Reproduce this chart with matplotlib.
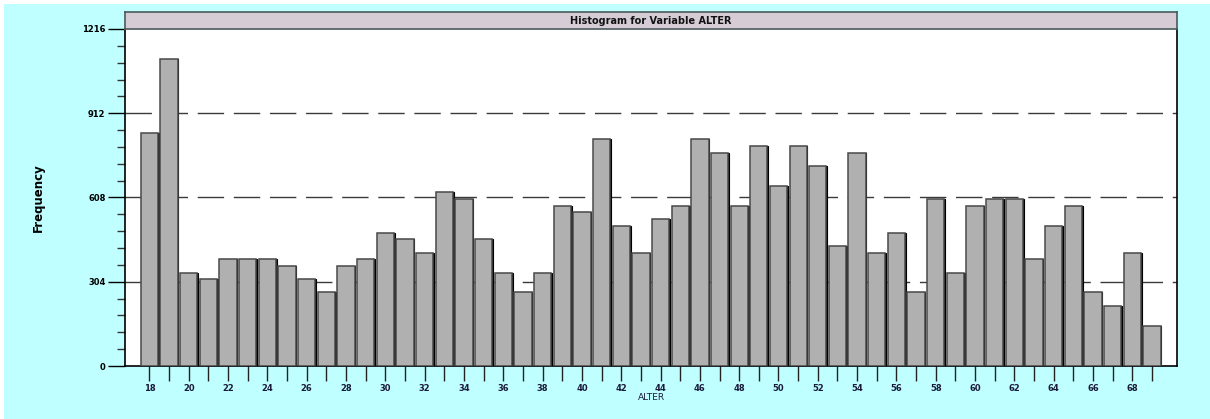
import matplotlib
matplotlib.use("Agg")
import matplotlib.pyplot as plt
from matplotlib.patches import Rectangle
from matplotlib.ticker import MultipleLocator

ages = list(range(18, 70))
freq = [842, 1107, 337, 313, 385, 385, 385, 362, 313, 267,
        362, 385, 481, 459, 409, 627, 601, 459, 337, 267,
        337, 577, 554, 818, 505, 409, 531, 577, 818, 768,
        577, 795, 649, 795, 723, 432, 768, 409, 481, 267,
        601, 337, 577, 601, 601, 386, 505, 577, 267, 218,
        409, 146]
yticks = [0, 304, 608, 912, 1216]
xtick_labels = list(range(18, 70, 2))
title = "Histogram for Variable ALTER"
xlabel = "ALTER"
ylabel = "Frequency"

W, H = 1210, 419
fig = plt.figure(figsize=(W / 100, H / 100), dpi=100, facecolor="white")
# cyan background panel
fig.patches.append(Rectangle((4 / W, 0), 1 - 4 / W, 1 - 4 / H, transform=fig.transFigure,
                             facecolor="#c0ffff", edgecolor="none", zorder=-10))

left, right = 125 / W, 1177 / W
bottom, top = (H - 366) / H, (H - 29) / H
ax = fig.add_axes([left, bottom, right - left, top - bottom])
ax.set_facecolor("white")

# shadow + bars
ax.bar([a + 0.035 for a in ages], freq, width=0.88, color="black", edgecolor="black",
       linewidth=0.8, zorder=2)
ax.bar(ages, freq, width=0.88, color="#b0b0b0", edgecolor="#4a4a4a", linewidth=1.1, zorder=3)

ax.set_xlim(16.76, 70.27)
ax.set_ylim(0, 1216)

for yv in yticks[1:-1]:
    ax.axhline(yv, color="#3a3a3a", linewidth=1.0, linestyle=(0, (19, 7)), zorder=1)

ax.set_yticks(yticks)
ax.set_yticklabels([str(v) for v in yticks], fontsize=6, fontweight="bold")
ax.yaxis.set_minor_locator(MultipleLocator(60.8))
ax.tick_params(axis="y", which="major", length=12, width=1.0, color="black", pad=2)
ax.tick_params(axis="y", which="minor", length=6, width=1.0, color="#333333")

ax.set_xticks(ages, minor=True)
ax.set_xticks(xtick_labels)
ax.set_xticklabels([str(v) for v in xtick_labels], fontsize=6, fontweight="bold", color="#1a1a3a")
ax.tick_params(axis="x", which="both", length=11, width=1.0, color="#222222", pad=2)

ax.set_xlabel(xlabel, fontsize=6.5, labelpad=0, color="#1a1a3a")
ax.set_ylabel(ylabel, fontsize=8.5, fontweight="bold")
ax.yaxis.set_label_coords(-80 / 1052, 0.5)

for s in ["left", "right", "bottom"]:
    ax.spines[s].set_color("black")
    ax.spines[s].set_linewidth(1.2)
ax.spines["top"].set_visible(False)

# title bar
tax = fig.add_axes([left, top, right - left, (H - 12) / H - top])
tax.set_facecolor("#d6ccd6")
tax.set_xticks([])
tax.set_yticks([])
for s in tax.spines.values():
    s.set_color("#4a5a5a")
    s.set_linewidth(1.2)
tax.text(0.5, 0.5, title, ha="center", va="center", fontsize=7, fontweight="bold",
         transform=tax.transAxes, color="#111111")

fig.savefig("out.png", dpi=100, facecolor=fig.get_facecolor())
